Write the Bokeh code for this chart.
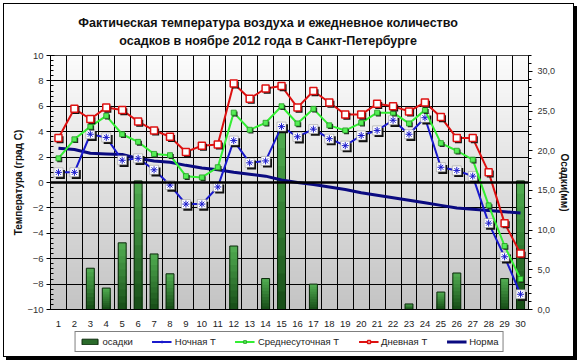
import numpy as np
from bokeh.plotting import figure
from bokeh.layouts import column
from bokeh.models import (Range1d, LinearAxis, FixedTicker, CustomJSTickFormatter,
                          Legend, LegendItem, Label, ColumnDataSource, Span)
from bokeh.transform import dodge
from bokeh.embed import file_html
from bokeh.resources import INLINE

days = list(range(1, 31))
night_t = [0.8, 0.8, 3.8, 3.55, 1.75, 1.9, 1.0, -0.2, -1.7, -1.7, -0.35, 3.3, 1.55, 1.7, 4.4,
           3.6, 4.2, 3.45, 2.9, 3.7, 4.1, 4.9, 3.8, 5.1, 1.2, 0.95, 0.5, -3.2, -5.85, -8.8]
mean_t = [1.9, 3.4, 4.4, 5.25, 3.8, 3.2, 2.25, 2.15, 0.5, 0.4, 1.2, 5.5, 4.15, 4.7, 6.0,
          4.65, 5.8, 4.5, 4.1, 4.7, 5.5, 5.5, 4.65, 5.7, 3.1, 2.5, 1.8, -1.8, -5.0, -7.6]
day_t = [3.5, 5.8, 5.0, 5.9, 5.7, 4.8, 4.1, 3.6, 2.4, 2.9, 3.0, 7.8, 6.6, 7.4, 7.6,
         5.9, 7.2, 6.3, 5.35, 5.35, 6.2, 6.0, 5.6, 6.3, 5.15, 3.5, 3.5, 0.8, -3.2, -5.6]
norm_t = [2.7, 2.6, 2.3, 2.25, 2.2, 1.9, 1.7, 1.6, 1.35, 1.15, 1.0, 0.8, 0.65, 0.5, 0.2,
          0.0, -0.15, -0.35, -0.55, -0.8, -1.0, -1.2, -1.4, -1.6, -1.8, -2.0, -2.1, -2.2, -2.3, -2.4]
precip = [0, 0, 5.2, 2.7, 8.4, 16.2, 7.0, 4.5, 0, 0, 0, 8.0, 0, 3.9, 22.6,
          0, 3.2, 0, 0, 0, 0, 0, 0.7, 0, 2.2, 4.6, 0, 0, 3.9, 16.2]

title_1 = "Фактическая температура воздуха и ежедневное количество"
title_2 = "осадков в ноябре 2012 года в Санкт-Петербурге"
left_label = "Температура (град С)"
right_label = "Осадки(мм)"
legend_labels = ["осадки", "Ночная T", "Среднесуточная T", "Дневная T", "Норма"]

FONT = "Liberation Sans"

# styles
C_NIGHT = "#1a1acc"
C_MEAN = "#33ee33"
C_DAY = "#dd1111"
C_NORM = "#0a0a80"
C_BAR = "#2a6a2a"
C_BAR_LINE = "#0b2a0b"
W = 569


def strip(height):
    f = figure(width=W, height=height, x_range=Range1d(0, W), y_range=Range1d(0, height),
               output_backend="svg", toolbar_location=None, x_axis_location=None,
               y_axis_location=None, min_border_left=0, min_border_right=0,
               min_border_top=0, min_border_bottom=0)
    f.grid.visible = False
    f.outline_line_color = None
    f.background_fill_color = "white"
    f.border_fill_color = "white"
    return f


# ---- title strip
tp = strip(46)
for txt, yy in ((title_1, 28), (title_2, 10)):
    tp.add_layout(Label(x=259, y=yy, text=txt, text_align="center", text_baseline="middle",
                        text_font=FONT, text_font_size="12.5px", text_font_style="bold",
                        text_color="#111111"))

# ---- main chart
src = ColumnDataSource(dict(day=days, night=night_t, mean=mean_t, dayt=day_t, norm=norm_t))
bar_days = [d for d, v in zip(days, precip) if v > 0]
bar_vals = [v for v in precip if v > 0]

p = figure(width=W, height=280, x_range=Range1d(0.5, 30.5), y_range=Range1d(-10, 10),
           output_backend="svg", toolbar_location=None,
           min_border_left=46, min_border_right=43, min_border_top=5, min_border_bottom=21)
p.background_fill_color = "white"
p.border_fill_color = "white"
p.outline_line_color = "black"
p.outline_line_width = 1

# background gradient of the plot area
nrow = 128
grad = np.zeros((nrow, 1), dtype=np.uint32)
view = grad.view(dtype=np.uint8).reshape((nrow, 1, 4))
for i in range(nrow):
    c = int(196 + (252 - 196) * i / (nrow - 1))
    view[i, 0, :] = [c, c, c, 255]
p.image_rgba(image=[grad], x=0.5, y=-10, dw=30, dh=20, level="image")

p.extra_y_ranges = {"precip": Range1d(0, 32)}
p.yaxis.ticker = FixedTicker(ticks=list(range(-10, 11, 2)),
                             minor_ticks=list(np.round(np.arange(-10, 10.01, 0.4), 2)))
p.xaxis.ticker = FixedTicker(ticks=days)
p.xgrid.ticker = FixedTicker(ticks=[d + 0.5 for d in days[:-1]])
p.ygrid.ticker = FixedTicker(ticks=list(range(-8, 9, 2)))
for g in (p.xgrid, p.ygrid):
    g.grid_line_color = "black"
    g.grid_line_width = 1

p.xaxis.major_tick_line_color = None
p.xaxis.minor_tick_line_color = None
p.xaxis.axis_line_color = "black"
p.xaxis.major_label_standoff = 5
p.xaxis.major_label_text_font = FONT
p.xaxis.major_label_text_font_size = "9.5px"
p.xaxis.major_label_text_color = "#222222"

ya = p.yaxis[0]
ya.axis_label = left_label
ya.axis_label_text_font = FONT
ya.axis_label_text_font_style = "bold"
ya.axis_label_text_font_size = "10px"
ya.axis_label_text_color = "#111111"
ya.axis_label_standoff = 0
ya.major_label_text_font = FONT
ya.major_label_text_font_size = "9.5px"
ya.major_label_text_color = "#333333"
ya.major_label_standoff = 3
ya.major_tick_out = 4
ya.major_tick_in = 4
ya.minor_tick_in = 3
ya.minor_tick_out = 0
ya.axis_line_color = "black"

ra = LinearAxis(y_range_name="precip",
                ticker=FixedTicker(ticks=list(range(0, 31, 5)), minor_ticks=list(range(0, 33))),
                formatter=CustomJSTickFormatter(code="return tick.toFixed(1).replace('.', ',');"))
ra.axis_label = right_label
ra.axis_label_text_font = FONT
ra.axis_label_text_font_style = "bold"
ra.axis_label_text_font_size = "10px"
ra.axis_label_text_color = "#111111"
ra.axis_label_standoff = 1
ra.major_label_text_font = FONT
ra.major_label_text_font_size = "9px"
ra.major_label_text_color = "#333333"
ra.major_label_standoff = 5
ra.major_tick_out = 4
ra.major_tick_in = 0
ra.minor_tick_out = 3
ra.minor_tick_in = 0
p.add_layout(ra, "right")

p.add_layout(Span(location=0, dimension="width", line_color="black", line_width=2.5))

# precipitation bars with a vertical gradient
nlay = 10
light = np.array([80, 170, 80])
dark = np.array([25, 80, 25])
for k in range(nlay):
    f = 1 - k / nlay
    col = light + (dark - light) * k / (nlay - 1)
    hexc = "#%02x%02x%02x" % tuple(int(c) for c in col)
    s = ColumnDataSource(dict(day=bar_days, v=[v * f for v in bar_vals]))
    p.vbar(x="day", top="v", bottom=0, width=0.5, source=s, y_range_name="precip",
           fill_color=hexc, line_color=None)
bsrc = ColumnDataSource(dict(day=bar_days, v=bar_vals))
p.vbar(x="day", top="v", bottom=0, width=0.5, source=bsrc, y_range_name="precip",
       fill_color=None, line_color=C_BAR_LINE, line_width=1)

p.line("day", "norm", source=src, line_color=C_NORM, line_width=3)

p.line("day", "night", source=src, line_color=C_NIGHT, line_width=2)
p.scatter(dodge("day", 0.12, range=p.x_range), dodge("night", -0.17, range=p.y_range), source=src,
          marker="square", size=9, fill_color="#111111", line_color=None)
p.scatter("day", "night", source=src, marker="square", size=9, fill_color="white",
          line_color="#888888", line_width=0.5)
p.scatter("day", "night", source=src, marker="asterisk", size=7, line_color=C_NIGHT, line_width=1)

p.line("day", "mean", source=src, line_color=C_MEAN, line_width=2)
p.scatter(dodge("day", 0.08, range=p.x_range), dodge("mean", -0.1, range=p.y_range), source=src,
          marker="square", size=5, fill_color="#222222", line_color=None)
p.scatter("day", "mean", source=src, marker="square", size=5, fill_color="#55ee55",
          line_color="#229922", line_width=0.8)

p.line("day", "dayt", source=src, line_color=C_DAY, line_width=2)
p.scatter(dodge("day", 0.1, range=p.x_range), dodge("dayt", -0.13, range=p.y_range), source=src,
          marker="square", size=7, fill_color="#111111", line_color=None)
p.scatter("day", "dayt", source=src, marker="square", size=7, fill_color="white",
          line_color=C_DAY, line_width=1.5)

# ---- legend strip (its own figure so that the legend is not clipped by the plot frame)
lp = strip(26)
# one sample point outside the visible range, only to give each legend icon its style
dummy = ColumnDataSource(dict(x=[-50], y=[-50]))
lb = lp.vbar(x="x", top="y", width=0.5, source=dummy, fill_color=C_BAR, line_color=C_BAR_LINE)
ln_l = lp.line("x", "y", source=dummy, line_color=C_NIGHT, line_width=2)
ln_a = lp.scatter("x", "y", source=dummy, marker="asterisk", size=7, line_color=C_NIGHT, line_width=1)
lm_l = lp.line("x", "y", source=dummy, line_color=C_MEAN, line_width=2)
lm_s = lp.scatter("x", "y", source=dummy, marker="square", size=5, fill_color="#55ee55",
                  line_color="#229922", line_width=0.8)
ld_l = lp.line("x", "y", source=dummy, line_color=C_DAY, line_width=2)
ld_s = lp.scatter("x", "y", source=dummy, marker="square", size=7, fill_color="white",
                  line_color=C_DAY, line_width=1.5)
lno = lp.line("x", "y", source=dummy, line_color=C_NORM, line_width=3)

legend = Legend(items=[
    LegendItem(label=legend_labels[0], renderers=[lb]),
    LegendItem(label=legend_labels[1], renderers=[ln_l, ln_a]),
    LegendItem(label=legend_labels[2], renderers=[lm_l, lm_s]),
    LegendItem(label=legend_labels[3], renderers=[ld_l, ld_s]),
    LegendItem(label=legend_labels[4], renderers=[lno]),
], orientation="horizontal", location="top_center")
legend.label_text_font = FONT
legend.label_text_font_size = "9.5px"
legend.label_text_color = "#222222"
legend.glyph_width = 20
legend.glyph_height = 7
legend.label_standoff = 3
legend.spacing = 19
legend.padding = 4
legend.margin = 1
legend.border_line_color = "black"
legend.border_line_width = 1
legend.background_fill_color = "white"
legend.label_height = 10
lp.add_layout(legend)

layout = column(tp, p, lp, spacing=0)
layout.styles = {"margin-left": "3px", "margin-top": "3px", "border": "1px solid black",
                 "box-shadow": "3px 3px 0 0 black", "background": "white"}

open("out.html", "w").write(file_html(layout, INLINE))
